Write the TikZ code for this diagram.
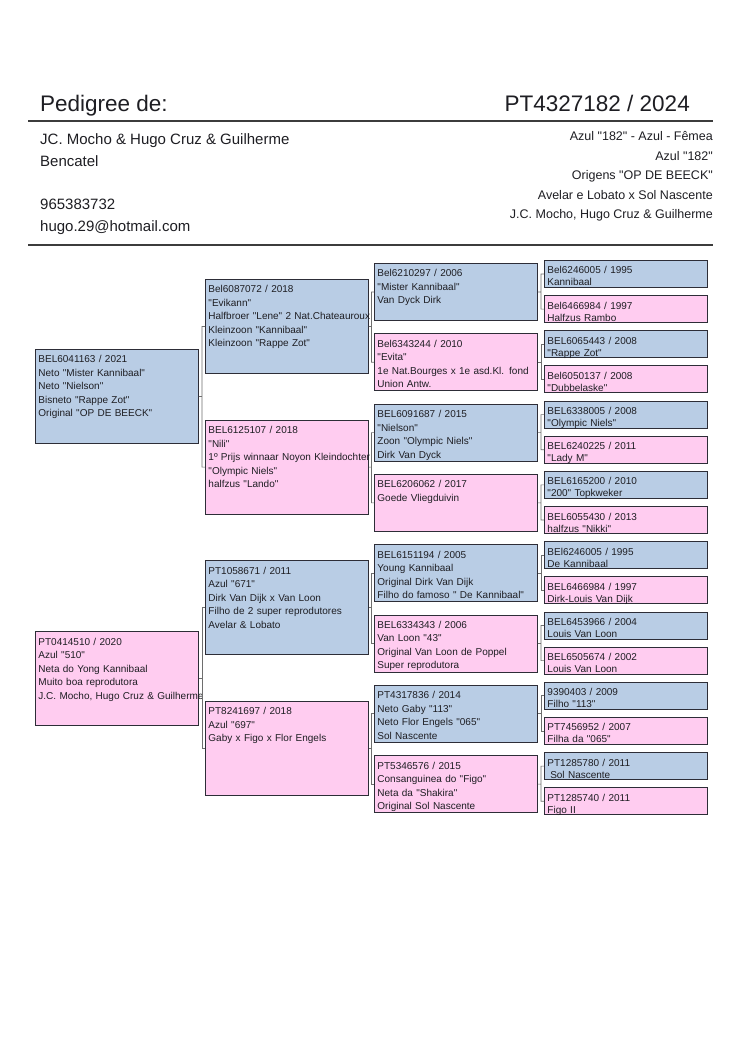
\documentclass[tikz,border=0pt]{standalone}
\usepackage{fontspec}
\newfontfamily\arialfont{Liberation Sans}
\AtBeginDocument{\arialfont}
\usepackage{xcolor}
\usepackage{tikz}
\usetikzlibrary{calc, positioning}
\definecolor{CockBlue}{RGB}{185, 205, 229}
\definecolor{HenPink}{RGB}{255, 204, 240}
\definecolor{DarkText}{RGB}{30, 30, 35}
\definecolor{BoxLine}{RGB}{45, 45, 55}
\definecolor{RuleGray}{RGB}{60, 60, 60}
\definecolor{LinkGray}{RGB}{110, 110, 110}

\tikzset{
  card/.style={draw=BoxLine, line width=0.9pt, anchor=north west, align=left,
               inner xsep=3pt, inner ysep=0pt, text width=157pt, text height=13.5pt,
               font=\arialfont\fontsize{10}{13.5}\selectfont, text=DarkText},
  male/.style={card, fill=CockBlue},
  female/.style={card, fill=HenPink},
  tallcard/.style={text depth=80.5pt},
  midcard/.style={text depth=43.5pt},
  flatcard/.style={text depth=13.5pt, font=\arialfont\fontsize{10}{12}\selectfont},
  link/.style={draw=LinkGray, line width=0.6pt},
  rule/.style={draw=RuleGray, line width=1.4pt},
  headleft/.style={anchor=base west, inner sep=0pt, text=DarkText, font=\arialfont\fontsize{15}{18}\selectfont},
  headright/.style={anchor=base east, inner sep=0pt, text=DarkText, font=\arialfont\fontsize{12.5}{15}\selectfont},
}

% bracket from a bird to its sire and dam
\newcommand{\famlink}[3]{%
  \draw[link] (#2.west) -| ($(#1.east)!.5!(#1.east -| #2.west)$) |- (#3.west)
              ($(#1.east)!.5!(#1.east -| #2.west)$) -- (#1.east);}

\begin{document}
\begin{tikzpicture}[x=1pt, y=-1pt]
  \fill[white] (0,0) rectangle (750,1060);
  \useasboundingbox (0,0) rectangle (750,1060);

  % header
  \node[anchor=base west, inner sep=0pt, text=DarkText, font=\arialfont\fontsize{22.5}{26}\selectfont] (title) at (40,111) {Pedigree de:};
  \node[anchor=base east, inner sep=0pt, text=DarkText, font=\arialfont\fontsize{22.5}{26}\selectfont] (ringno) at (690,111) {PT4327182 / 2024};
  \draw[rule] (28,121) -- (713,121);
  \node[headleft] (own1) at (40,144) {JC. Mocho \& Hugo Cruz \& Guilherme};
  \node[headleft] (own2) at (40,166) {Bencatel};
  \node[headleft] (phone) at (40,209) {965383732};
  \node[headleft] (mail) at (40,231) {hugo.29@hotmail.com};
  \node[headright] (info1) at (713,140) {Azul "182" - Azul - Fêmea};
  \node[headright] (info2) at (713,160) {Azul "182"};
  \node[headright] (info3) at (713,179) {Origens "OP DE BEECK"};
  \node[headright] (info4) at (713,199) {Avelar e Lobato x Sol Nascente};
  \node[headright] (info5) at (713,218) {J.C. Mocho, Hugo Cruz \& Guilherme};
  \draw[rule] (28,245) -- (713,245);

  % parents
  \node[male, tallcard] (n2) at (35,349) {BEL6041163 / 2021\\Neto "Mister Kannibaal"\\Neto "Nielson"\\Bisneto "Rappe Zot"\\Original "OP DE BEECK"};
  \node[female, tallcard] (n3) at (35,631.2) {PT0414510 / 2020\\Azul "510"\\Neta do Yong Kannibaal\\Muito boa reprodutora\\\mbox{J.C. Mocho, Hugo Cruz \& Guilherme}};

  % grandparents
  \node[male, tallcard] (n4) at (205,279) {Bel6087072 / 2018\\"Evikann"\\\mbox{Halfbroer "Lene" 2 Nat.Chateauroux}\\Kleinzoon "Kannibaal"\\Kleinzoon "Rappe Zot"};
  \node[female, tallcard] (n5) at (205,419.6) {BEL6125107 / 2018\\"Nili"\\\mbox{1º Prijs winnaar Noyon Kleindochter}\\"Olympic Niels"\\halfzus "Lando"};
  \node[male, tallcard] (n6) at (205,560.2) {PT1058671 / 2011\\Azul "671"\\Dirk Van Dijk x Van Loon\\Filho de 2 super reprodutores\\Avelar \& Lobato};
  \node[female, tallcard] (n7) at (205,700.8) {PT8241697 / 2018\\Azul "697"\\Gaby x Figo x Flor Engels};

  % great-grandparents
  \node[male, midcard] (n8) at (374,263) {Bel6210297 / 2006\\"Mister Kannibaal"\\Van Dyck Dirk};
  \node[female, midcard] (n9) at (374,333.3) {Bel6343244 / 2010\\"Evita"\\1e Nat.Bourges x 1e asd.Kl. fond\\Union Antw.};
  \node[male, midcard] (n10) at (374,403.6) {BEL6091687 / 2015\\"Nielson"\\Zoon "Olympic Niels"\\Dirk Van Dyck};
  \node[female, midcard] (n11) at (374,473.9) {BEL6206062 / 2017\\Goede Vliegduivin};
  \node[male, midcard] (n12) at (374,544.2) {BEL6151194 / 2005\\Young Kannibaal\\Original Dirk Van Dijk\\\mbox{Filho do famoso " De Kannibaal"}};
  \node[female, midcard] (n13) at (374,614.5) {BEL6334343 / 2006\\Van Loon "43"\\Original Van Loon de Poppel\\Super reprodutora};
  \node[male, midcard] (n14) at (374,684.8) {PT4317836 / 2014\\Neto Gaby "113"\\Neto Flor Engels "065"\\Sol Nascente};
  \node[female, midcard] (n15) at (374,755.1) {PT5346576 / 2015\\Consanguinea do "Figo"\\Neta da "Shakira"\\Original Sol Nascente};

  % great-great-grandparents
  \node[male, flatcard] (n16) at (544,260) {Bel6246005 / 1995\\Kannibaal};
  \node[female, flatcard] (n17) at (544,295.15) {Bel6466984 / 1997\\Halfzus Rambo};
  \node[male, flatcard] (n18) at (544,330.3) {BEL6065443 / 2008\\"Rappe Zot"};
  \node[female, flatcard] (n19) at (544,365.45) {Bel6050137 / 2008\\"Dubbelaske"};
  \node[male, flatcard] (n20) at (544,400.6) {BEL6338005 / 2008\\"Olympic Niels"};
  \node[female, flatcard] (n21) at (544,435.75) {BEL6240225 / 2011\\"Lady M"};
  \node[male, flatcard] (n22) at (544,470.9) {BEL6165200 / 2010\\"200" Topkweker};
  \node[female, flatcard] (n23) at (544,506.05) {BEL6055430 / 2013\\halfzus "Nikki"};
  \node[male, flatcard] (n24) at (544,541.2) {BEl6246005 / 1995\\De Kannibaal};
  \node[female, flatcard] (n25) at (544,576.35) {BEL6466984 / 1997\\Dirk-Louis Van Dijk};
  \node[male, flatcard] (n26) at (544,611.5) {BEL6453966 / 2004\\Louis Van Loon};
  \node[female, flatcard] (n27) at (544,646.65) {BEL6505674 / 2002\\Louis Van Loon};
  \node[male, flatcard] (n28) at (544,681.8) {9390403 / 2009\\Filho "113"};
  \node[female, flatcard] (n29) at (544,716.95) {PT7456952 / 2007\\Filha da "065"};
  \node[male, flatcard] (n30) at (544,752.1) {PT1285780 / 2011\\\hspace*{2.8pt}Sol Nascente};
  \node[female, flatcard] (n31) at (544,787.25) {PT1285740 / 2011\\Figo II};

  % brackets
  \foreach \k [evaluate=\k as \a using {int(2*\k)}, evaluate=\k as \b using {int(2*\k+1)}] in {2,...,15}
    {\famlink{n\k}{n\a}{n\b}}
\end{tikzpicture}
\end{document}
